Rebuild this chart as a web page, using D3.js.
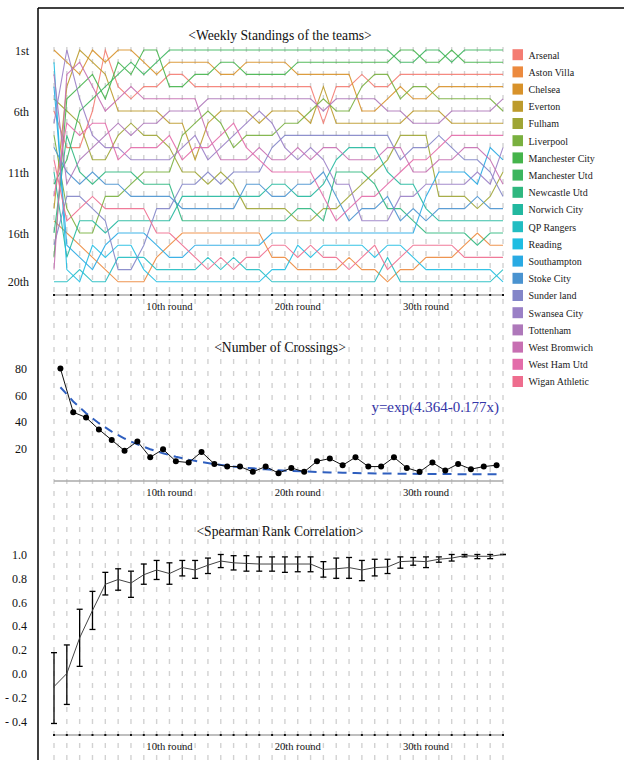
<!DOCTYPE html>
<html><head><meta charset="utf-8">
<script src="https://cdn.jsdelivr.net/npm/d3@7"></script>
<style>
body{margin:0;background:#fff}
svg{display:block}
text{font-family:"Liberation Serif","Times New Roman",serif}
</style>
</head><body>
<svg id="chart" width="624" height="760"></svg>
<script>
// ---------- DATA ----------
const teamNames = ["Arsenal","Aston Villa","Chelsea","Everton","Fulham","Liverpool","Manchester City","Manchester Utd","Newcastle Utd","Norwich City","QP Rangers","Reading","Southampton","Stoke City","Sunder land","Swansea City","Tottenham","West Bromwich","West Ham Utd","Wigan Athletic"];
const teamCodes = ["AR","AV","CH","EV","FU","LI","MC","MU","NE","NO","QP","RE","SO","ST","SU","SW","TO","WB","WH","WI"];
const teamColors = ["#f47c72","#ec8a3e","#d8922a","#bd9b2c","#9fa535","#79b03f","#45b44b","#3cb55e","#2fb77f","#22b89f","#22bdc2","#1fbde2","#29aae3","#4a93d0","#8385c8","#9a80c6","#ae78ba","#c76fb2","#e36caa","#ee6d8e"];
const rounds = d3.range(1, 37);
// standings: for each round, teams listed from 1st to 20th
const standings = [
"CH RE TO SO FU AR SW LI ST WI NO MU WH EV AV NE SU MC WB QP",
"SW CH WB EV MC FU WH NE AR MU ST TO SU LI WI AV SO NO RE QP",
"EV WB CH MC SW MU FU WH AR TO NE ST SU WI NO LI AV SO QP RE",
"CH EV MC WB MU AR WH SW TO FU ST NE WI SU NO LI RE AV SO QP",
"AR CH EV MU MC WB WH TO SW FU NE ST LI WI SU NO SO RE AV QP",
"CH MC MU AR WB EV TO FU SW WH NE ST LI WI NO SO RE QP SU AV",
"CH MU MC WB AR EV FU TO WH SW NE LI ST WI NO SO RE QP SU AV",
"MC CH MU AR WB EV TO FU WH SW LI NE ST WI NO SO SU QP RE AV",
"MC MU CH AR WB EV TO FU WH SW LI NE ST SU NO WI SO AV QP RE",
"MU CH AR MC WB TO EV WH FU SW LI NE ST SU NO WI AV SO QP RE",
"MU CH AR MC WB TO EV LI SW WH FU SU NO ST NE AV WI SO QP RE",
"MU CH MC AR WB TO LI SW WH EV FU SU NO ST NE AV SO WI QP RE",
"MU CH MC AR TO LI EV WB WH SW SU FU NO ST NE AV SO QP WI RE",
"MU MC CH AR TO EV LI WH SW WB FU SU NO ST NE AV SO WI QP RE",
"MU MC CH AR TO EV WH SW LI WB SU FU NO ST NE AV SO QP WI RE",
"MU CH MC AR TO EV SW LI WH WB SU ST NO FU NE AV SO WI QP RE",
"MU CH MC AR TO SW EV LI WB WH SU ST NO FU NE AV SO WI QP RE",
"MU CH MC AR TO EV SW LI SU WB WH NO ST FU NE SO WI AV RE QP",
"MU CH MC AR TO EV LI SU SW WB WH NO ST FU NE SO WI AV RE QP",
"MU MC CH AR TO EV LI SU WB SW WH ST NO NE FU SO RE WI AV QP",
"MU MC CH AR TO LI EV SU SW WB WH ST NO NE FU SO WI RE AV QP",
"MU MC CH EV LI TO AR SU WB SW ST NO WH FU NE SO RE WI AV QP",
"MU MC CH AR TO LI EV SU WB NO NE SW ST FU WH SO RE WI AV QP",
"MU MC CH AR TO LI EV SU NO WB NE SW FU WH ST SO RE AV WI QP",
"MU MC AR LI TO CH EV SU NO WB NE FU WH ST SW SO RE WI AV QP",
"MU MC LI AR TO CH EV SU NO WB FU NE WH ST SW SO WI RE AV QP",
"MU MC LI AR CH TO EV SU WB FU NO WH ST NE SW SO RE QP WI AV",
"MC MU AR CH LI TO EV FU WB SU WH NO SW NE ST SO RE WI AV QP",
"MC MU AR LI CH EV TO FU SU WH WB NO SW ST NE SO WI RE AV QP",
"MU MC AR LI CH EV TO FU SU WH WB SW SO NO ST NE WI AV RE QP",
"MU MC AR CH LI EV TO SU WH WB SO SW FU ST NO NE WI AV RE QP",
"MC MU AR CH LI TO EV WH SU WB SO SW FU ST NO NE WI AV RE QP",
"MU MC AR CH LI TO EV WH WB SU SO SW FU ST NO NE AV WI RE QP",
"MU MC AR CH LI TO EV WH WB SU SW SO ST FU NO AV NE WI RE QP",
"MU MC AR CH LI TO EV WH SO WB SU SW FU ST NO NE AV WI RE QP",
"MU MC AR CH TO LI EV WH SW SO FU WB SU ST NO NE AV WI QP RE"
];
const rankTicks = [1, 6, 11, 16, 20];
const rankLabels = ["1st", "6th", "11th", "16th", "20th"];
const roundTicks = [10, 20, 30];
const roundLabels = ["10th round", "20th round", "30th round"];

// number of crossings between consecutive rounds
const crossings = [80,47,43,34,26,18,25,13,19,10,9,17,8,6,6,2,6,1,5,2,10,12,7,13,6,6,13,5,2,9,3,8,4,6,7];
const crossTicks = [20, 40, 60, 80];
const fitIntercept = 4.364, fitSlope = 0.177;
const fitLabel = "y=exp(4.364-0.177x)";

// Spearman rank correlation with error bars
const spearmanMean = [-0.11,0.0,0.30,0.53,0.75,0.79,0.76,0.83,0.87,0.84,0.89,0.87,0.91,0.945,0.93,0.925,0.92,0.92,0.92,0.92,0.92,0.875,0.88,0.89,0.87,0.89,0.895,0.94,0.945,0.94,0.96,0.97,0.99,0.985,0.985,1.0];
const spearmanHigh = [0.175,0.24,0.54,0.69,0.85,0.88,0.86,0.92,0.95,0.93,0.95,0.95,0.97,1.0,0.99,0.99,0.98,0.98,0.98,0.98,0.98,0.94,0.97,0.975,0.95,0.96,0.96,0.98,0.975,0.98,0.98,1.0,1.0,1.0,1.0,1.0];
const spearmanLow = [-0.42,-0.26,0.06,0.37,0.66,0.70,0.64,0.75,0.79,0.75,0.82,0.80,0.84,0.89,0.87,0.86,0.86,0.86,0.85,0.855,0.855,0.81,0.80,0.80,0.78,0.82,0.84,0.885,0.91,0.89,0.935,0.945,0.98,0.965,0.965,1.0];
const corrTicks = [-0.4,-0.2,0.0,0.2,0.4,0.6,0.8,1.0];

// ---------- DRAW ----------
const svg = d3.select("#chart");
const x = d3.scaleLinear().domain([1, 36]).range([54, 503]);
const yRank = d3.scaleLinear().domain([1, 20]).range([50, 281.8]);
const yCross = d3.scaleLinear().domain([0, 80]).range([474.5, 368.5]);
const yCorr = d3.scaleLinear().domain([0, 1]).range([673.5, 554.5]);

// frame
svg.append("line").attr("x1",38).attr("x2",624).attr("y1",8).attr("y2",8).attr("stroke","#000").attr("stroke-width",1.5);
svg.append("line").attr("x1",38).attr("x2",38).attr("y1",8).attr("y2",760).attr("stroke","#000").attr("stroke-width",1.5);

// vertical dashed grid
svg.append("g").selectAll("line").data(rounds).join("line")
  .attr("x1", d => x(d)).attr("x2", d => x(d))
  .attr("y1", 47).attr("y2", 760)
  .attr("stroke", "#d2d2d2").attr("stroke-width", 1.4)
  .attr("stroke-dasharray", "5,7");

function titleText(t, y) {
  svg.append("text").attr("x", 280).attr("y", y).attr("text-anchor","middle")
    .attr("font-size", 13.6).attr("fill","#111").text(t);
}
function xAxis(yPos, ticks) {
  svg.append("line").attr("x1", x(1)).attr("x2", x(36)).attr("y1", yPos).attr("y2", yPos)
    .attr("stroke", "#aaa").attr("stroke-width", 1.5);
  if (ticks) {
    svg.append("g").selectAll("line").data(rounds).join("line")
      .attr("x1", d => x(d) - 1).attr("x2", d => x(d) + 1)
      .attr("y1", yPos).attr("y2", yPos)
      .attr("stroke", "#111").attr("stroke-width", 2);
  }
  svg.append("g").selectAll("text").data(roundTicks).join("text")
    .attr("x", d => x(d)).attr("y", yPos + 15).attr("text-anchor","middle")
    .attr("font-size", 10.6).attr("fill","#111")
    .text((d,i) => roundLabels[i]);
}

// ----- Panel 1: bump chart -----
titleText("<Weekly Standings of the teams>", 40);
svg.append("g").selectAll("text").data(rankTicks).join("text")
  .attr("x", 29).attr("y", d => yRank(d) + 4.5).attr("text-anchor","end")
  .attr("font-size", 12).attr("fill","#111")
  .text((d,i) => rankLabels[i]);

const rankOf = teamCodes.map(code => standings.map(s => s.split(" ").indexOf(code) + 1));
const bumpLine = d3.line().x((d,i) => x(rounds[i])).y(d => yRank(d));
svg.append("g").selectAll("path").data(rankOf).join("path")
  .attr("d", bumpLine).attr("fill","none")
  .attr("stroke", (d,i) => teamColors[i]).attr("stroke-width", 1.1)
  .attr("stroke-opacity", 0.9);
xAxis(295, true);

// legend
const lg = svg.append("g");
teamNames.forEach((n, i) => {
  const yy = 54.7 + i * 17.2;
  lg.append("rect").attr("x", 512.5).attr("y", yy - 5.5).attr("width", 10.5).attr("height", 11)
    .attr("fill", teamColors[i]);
  lg.append("text").attr("x", 528.5).attr("y", yy + 3.8).attr("font-size", 10)
    .attr("fill", "#222").text(n);
});

// ----- Panel 2: crossings -----
titleText("<Number of Crossings>", 352);
svg.append("g").selectAll("text").data(crossTicks).join("text")
  .attr("x", 27).attr("y", d => yCross(d) + 4.5).attr("text-anchor","end")
  .attr("font-size", 12).attr("fill","#111").text(d => d);
const cx = (d,i) => (x(i + 1) + x(i + 2)) / 2;
const fitVals = crossings.map((d,i) => Math.exp(fitIntercept - fitSlope * (i + 1)));
svg.append("path").datum(fitVals)
  .attr("d", d3.line().x(cx).y(d => yCross(d)))
  .attr("fill","none").attr("stroke","#2f5fbf").attr("stroke-width",2)
  .attr("stroke-dasharray","9,6");
svg.append("path").datum(crossings)
  .attr("d", d3.line().x(cx).y(d => yCross(d)))
  .attr("fill","none").attr("stroke","#111").attr("stroke-width",1);
svg.append("g").selectAll("circle").data(crossings).join("circle")
  .attr("cx", cx).attr("cy", d => yCross(d)).attr("r", 3).attr("fill","#000");
svg.append("text").attr("x", 499).attr("y", 412).attr("text-anchor","end")
  .attr("font-size", 15).attr("fill","#3535a8").text(fitLabel);
xAxis(481, false);

// ----- Panel 3: Spearman -----
titleText("<Spearman Rank Correlation>", 536);
svg.append("g").selectAll("text").data(corrTicks).join("text")
  .attr("x", 27).attr("y", d => yCorr(d) + 4.5).attr("text-anchor","end")
  .attr("font-size", 12).attr("fill","#111")
  .text(d => (d < 0 ? "- " + Math.abs(d).toFixed(1) : d.toFixed(1)));
const eb = svg.append("g").attr("stroke","#000").attr("stroke-width",1.3);
rounds.forEach((r, i) => {
  const xx = x(r);
  eb.append("line").attr("x1",xx).attr("x2",xx).attr("y1",yCorr(spearmanHigh[i])).attr("y2",yCorr(spearmanLow[i]));
  eb.append("line").attr("x1",xx-3).attr("x2",xx+3).attr("y1",yCorr(spearmanHigh[i])).attr("y2",yCorr(spearmanHigh[i]));
  eb.append("line").attr("x1",xx-3).attr("x2",xx+3).attr("y1",yCorr(spearmanLow[i])).attr("y2",yCorr(spearmanLow[i]));
});
svg.append("path").datum(spearmanMean)
  .attr("d", d3.line().x((d,i) => x(rounds[i])).y(d => yCorr(d)))
  .attr("fill","none").attr("stroke","#444").attr("stroke-width",1);
xAxis(735, true);
</script>
</body></html>
